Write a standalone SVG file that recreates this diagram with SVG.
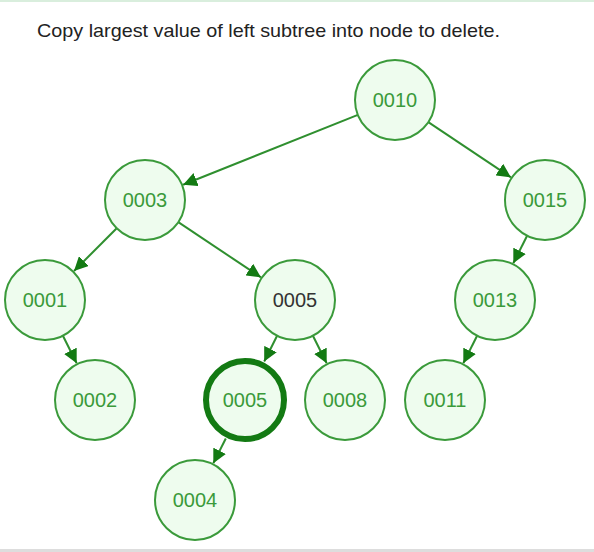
<svg xmlns="http://www.w3.org/2000/svg" width="594" height="552" viewBox="0 0 594 552">
<defs>
<marker id="arr" markerUnits="userSpaceOnUse" markerWidth="14" markerHeight="14" refX="14" refY="7" orient="auto">
<path d="M0,0 L14,7 L0,14 z" fill="#137a13"/>
</marker>
<style>
.n circle{fill:#eefcee;stroke:#3a9a3a;stroke-width:2}
.n text{font-family:"Liberation Sans",Arial,sans-serif;font-size:20px;fill:#3a9a3a;text-anchor:middle;dominant-baseline:central}
.e line{stroke:#2f8f2f;stroke-width:2;marker-end:url(#arr)}
</style>
</defs>
<rect x="0" y="0" width="594" height="552" fill="#ffffff"/>
<rect x="0" y="0" width="594" height="2" fill="#d9eedd"/>
<rect x="0" y="549" width="594" height="3" fill="#dddddd"/>
<text x="37" y="37" font-family="'Liberation Sans',Arial,sans-serif" font-size="19" fill="#222" textLength="463" lengthAdjust="spacingAndGlyphs">Copy largest value of left subtree into node to delete.</text>
<g id="edges" class="e">
<line x1="357.9" y1="114.9" x2="183.1" y2="184.8"/>
<line x1="428.3" y1="122.2" x2="510.9" y2="177.3"/>
<line x1="116.7" y1="228.3" x2="74" y2="271"/>
<line x1="178.3" y1="222.2" x2="260.9" y2="277.3"/>
<line x1="527.1" y1="235.8" x2="513.3" y2="263.3"/>
<line x1="62.9" y1="335.8" x2="76.7" y2="363.3"/>
<line x1="277.1" y1="335.8" x2="264.2" y2="361.5"/>
<line x1="312.9" y1="335.8" x2="326.7" y2="363.3"/>
<line x1="477.1" y1="335.8" x2="463.3" y2="363.3"/>
<line x1="225.8" y1="438.5" x2="213.3" y2="463.3"/>
</g>
<g id="n0010" class="n"><circle cx="395" cy="100" r="40"/><text x="395" y="100">0010</text></g>
<g id="n0003" class="n"><circle cx="145" cy="200" r="40"/><text x="145" y="200">0003</text></g>
<g id="n0015" class="n"><circle cx="545" cy="200" r="40"/><text x="545" y="200">0015</text></g>
<g id="n0001" class="n"><circle cx="45" cy="300" r="40"/><text x="45" y="300">0001</text></g>
<g id="n0005a" class="n"><circle cx="295" cy="300" r="40"/><text x="295" y="300" style="fill:#333333">0005</text></g>
<g id="n0013" class="n"><circle cx="495" cy="300" r="40"/><text x="495" y="300">0013</text></g>
<g id="n0002" class="n"><circle cx="95" cy="400" r="40"/><text x="95" y="400">0002</text></g>
<g id="n0005b" class="n"><circle cx="245" cy="400" r="39" style="stroke:#137a13;stroke-width:6"/><text x="245" y="400">0005</text></g>
<g id="n0008" class="n"><circle cx="345" cy="400" r="40"/><text x="345" y="400">0008</text></g>
<g id="n0011" class="n"><circle cx="445" cy="400" r="40"/><text x="445" y="400">0011</text></g>
<g id="n0004" class="n"><circle cx="195" cy="500" r="40"/><text x="195" y="500">0004</text></g>
</svg>
